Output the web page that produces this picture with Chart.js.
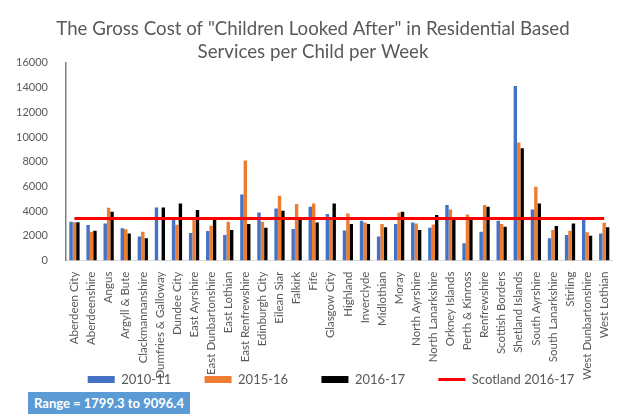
<!DOCTYPE html>
<html>
<head>
<meta charset="utf-8">
<script src="https://cdn.jsdelivr.net/npm/chart.js@4/dist/chart.umd.min.js"></script>
<style>
  html, body { margin: 0; padding: 0; background: #fff; }
  #wrap { position: relative; width: 621px; height: 418px; }
  #range {
    position: absolute; left: 28px; top: 392px; width: 162px; height: 22px;
    background: #5b9bd5; color: #fff; font: bold 13px Lato, sans-serif;
    line-height: 22px; text-align: center;
  }
</style>
</head>
<body>
<div id="wrap">
  <canvas id="costChart" width="621" height="418"></canvas>
  <div id="range">Range = 1799.3 to 9096.4</div>
</div>
<script>
const councils = [
  "Aberdeen City", "Aberdeenshire", "Angus", "Argyll & Bute", "Clackmannanshire",
  "Dumfries & Galloway", "Dundee City", "East Ayrshire", "East Dunbartonshire",
  "East Lothian", "East Renfrewshire", "Edinburgh City", "Eilean Siar", "Falkirk",
  "Fife", "Glasgow City", "Highland", "Inverclyde", "Midlothian", "Moray",
  "North Ayrshire", "North Lanarkshire", "Orkney Islands", "Perth & Kinross",
  "Renfrewshire", "Scottish Borders", "Shetland Islands", "South Ayrshire",
  "South Lanarkshire", "Stirling", "West Dunbartonshire", "West Lothian",
];

const cost2010 = [3150, 2880, 3010, 2610, 1940, 4300, 3280, 2230, 2390, 2070, 5350, 3900, 4220, 2560, 4360, 3770,
  2440, 3230, 1940, 2960, 3090, 2660, 4490, 1400, 2340, 3230, 14120, 4140, 1800, 2070, 3280, 2200];
const cost2015 = [3100, 2340, 4280, 2530, 2340, null, 2900, 3300, 2820, 3150, 8100, 3150, 5250, 4570, 4630, 3300,
  3820, 3090, 2960, 3870, 3010, 2930, 4140, 3740, 4490, 2960, 9550, 5970, 2470, 2420, 2290, 3070];
const cost2016 = [3100, 2420, 3950, 2200, 1799, 4300, 4630, 4090, 3280, 2470, 2960, 2660, 4030, 3280, 3090, 4630,
  2960, 2960, 2690, 3950, 2470, 3690, 3340, 3280, 4360, 2740, 9096, 4630, 2800, 3010, 2020, 2690];
const scotland2016 = 3400;

const yTicks = [0, 2000, 4000, 6000, 8000, 10000, 12000, 14000, 16000];

const COLORS = {
  y2010: "#4472c4",
  y2015: "#ed7d31",
  y2016: "#000000",
  scotland: "#ff0000",
  text: "#595959",
};

Chart.defaults.font.family = "Lato, sans-serif";
Chart.defaults.color = COLORS.text;

const LABEL_OVERLAP = 16;

// nudge legend right, and let long x labels run into the legend row like the original
const layoutTweaks = {
  id: "layoutTweaks",
  afterLayout(chart) {
    chart.legend.left += 18;
    chart.legend.right += 18;
    const x = chart.scales.x;
    x.bottom += LABEL_OVERLAP + 10;
    x.height += LABEL_OVERLAP + 10;
  },
};

const barDefaults = { categoryPercentage: 0.6, barPercentage: 1.0, pointStyle: "rect", order: 1 };

new Chart(document.getElementById("costChart"), {
  type: "bar",
  data: {
    labels: councils,
    datasets: [
      { ...barDefaults, label: "2010-11", data: cost2010, backgroundColor: COLORS.y2010 },
      { ...barDefaults, label: "2015-16", data: cost2015, backgroundColor: COLORS.y2015 },
      { ...barDefaults, label: "2016-17", data: cost2016, backgroundColor: COLORS.y2016 },
      {
        type: "line",
        label: "Scotland 2016-17",
        data: councils.map(() => scotland2016),
        borderColor: COLORS.scotland,
        backgroundColor: COLORS.scotland,
        borderWidth: 3,
        pointRadius: 0,
        pointStyle: "line",
        order: 0,
      },
    ],
  },
  plugins: [layoutTweaks],
  options: {
    responsive: false,
    animation: false,
    layout: { padding: { left: 6, right: 1, bottom: 22 } },
    plugins: {
      title: {
        display: true,
        text: ["The Gross Cost of \"Children Looked After\" in Residential Based", "Services per Child per Week"],
        font: { size: 18.7, weight: "normal" },
        color: COLORS.text,
        lineHeight: 1.22,
        padding: { top: 18, bottom: 0 },
      },
      legend: {
        position: "bottom",
        labels: {
          usePointStyle: true,
          pointStyleWidth: 27,
          boxWidth: 27,
          boxHeight: 7,
          padding: 10,
          color: COLORS.text,
          font: { size: 13 },
          sort: (a, b) => a.datasetIndex - b.datasetIndex,
          generateLabels(chart) {
            const items = Chart.defaults.plugins.legend.labels.generateLabels(chart);
            items.forEach((item) => {
              if (item.datasetIndex < 3) item.text += "       ";
            });
            return items;
          },
        },
      },
      tooltip: { enabled: false },
    },
    scales: {
      x: {
        grid: { display: false },
        border: { color: "#d9d9d9" },
        ticks: { minRotation: 90, maxRotation: 90, autoSkip: false, font: { size: 11.5 }, color: COLORS.text },
        afterFit(scale) {
          scale.height -= LABEL_OVERLAP + 4;
        },
      },
      y: {
        min: 0,
        max: 16000,
        grid: { display: false },
        border: { color: "#7f7f7f", width: 1.5 },
        afterBuildTicks(axis) {
          axis.ticks = yTicks.map((v) => ({ value: v }));
        },
        ticks: { font: { size: 11 }, color: COLORS.text, padding: 10, callback: (v) => String(v) },
      },
    },
  },
});
</script>
</body>
</html>
